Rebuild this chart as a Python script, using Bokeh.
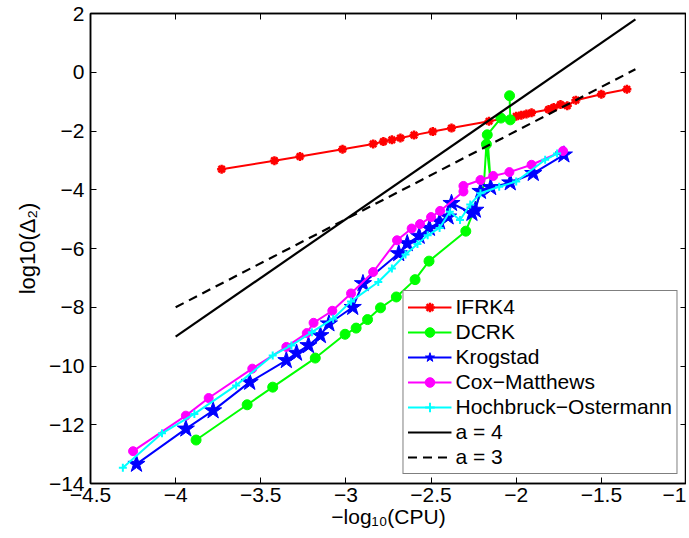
from bokeh.plotting import figure
from bokeh.models import LinearAxis, FixedTicker, Legend, LegendItem, Range1d, CustomLabelingPolicy
from bokeh.embed import file_html
from bokeh.resources import INLINE

# ---------------- data ----------------
ifrk4_x = [-3.73, -3.42, -3.27, -3.02, -2.84, -2.78, -2.73, -2.68, -2.60, -2.49, -2.38, -2.16,
           -2.00, -1.97, -1.94, -1.91, -1.81, -1.78, -1.74, -1.70, -1.65, -1.50, -1.35]
ifrk4_y = [-3.30, -3.01, -2.87, -2.62, -2.44, -2.36, -2.30, -2.24, -2.14, -2.02, -1.90, -1.67,
           -1.50, -1.46, -1.42, -1.38, -1.27, -1.20, -1.10, -1.14, -0.95, -0.75, -0.58]

dcrk_x = [-3.88, -3.58, -3.43, -3.18, -3.005, -2.94, -2.873, -2.797, -2.704, -2.594, -2.512, -2.296,
          -2.19, -2.175, -2.15, -2.17, -2.09, -2.035, -2.039]
dcrk_y = [-12.52, -11.32, -10.72, -9.73, -8.92, -8.71, -8.42, -8.02, -7.65, -7.06, -6.43, -5.41,
          -3.85, -2.45, -3.75, -2.13, -1.56, -1.62, -0.80]

krog_x = [-4.23, -3.94, -3.78, -3.565, -3.35, -3.29, -3.22, -3.15, -3.10, -2.96, -2.90, -2.69,
          -2.64, -2.57, -2.51, -2.45, -2.40, -2.38, -2.26, -2.24, -2.21, -2.15, -2.035, -1.90, -1.72]
krog_y = [-13.34, -12.14, -11.52, -10.55, -9.81, -9.56, -9.30, -8.96, -8.56, -8.00, -7.19, -6.17,
          -5.83, -5.58, -5.31, -5.09, -4.92, -4.46, -4.80, -4.69, -4.05, -3.92, -3.76, -3.44, -2.81]

cox_x = [-4.25, -3.94, -3.806, -3.55, -3.35, -3.23, -3.19, -3.08, -2.97, -2.84, -2.70, -2.614,
         -2.565, -2.50, -2.447, -2.31, -2.31, -2.21, -2.135, -2.04, -1.91, -1.725]
cox_y = [-12.90, -11.69, -11.09, -10.09, -9.35, -8.88, -8.53, -8.12, -7.53, -6.80, -5.72, -5.32,
         -5.17, -4.93, -4.72, -4.06, -3.87, -3.67, -3.53, -3.40, -3.15, -2.68]

ho_x = [-4.31, -4.08, -3.89, -3.645, -3.43, -3.32, -3.20, -3.075, -2.97, -2.81, -2.73, -2.65,
        -2.58, -2.52, -2.45, -2.39, -2.33, -2.27, -2.21, -2.10, -2.00, -1.83, -1.76]
ho_y = [-13.46, -12.29, -11.63, -10.66, -9.64, -9.30, -8.85, -8.39, -7.80, -7.14, -6.68, -6.20,
        -5.85, -5.55, -5.30, -4.75, -5.03, -4.50, -4.12, -3.90, -3.72, -2.98, -2.77]

a4_x = [-4.0, -1.3]
a4_y = [-9.0, 1.8]
a3_x = [-4.0, -1.3]
a3_y = [-8.0, 0.1]

x_ticks = [-4.5, -4.0, -3.5, -3.0, -2.5, -2.0, -1.5, -1.0]
x_tick_labels = ["\u22124.5", "\u22124", "\u22123.5", "\u22123", "\u22122.5", "\u22122", "\u22121.5", "\u22121"]
y_ticks = [-14, -12, -10, -8, -6, -4, -2, 0, 2]
y_tick_labels = ["\u221214", "\u221212", "\u221210", "\u22128", "\u22126", "\u22124", "\u22122", "0", "2"]

FONT = "Liberation Sans"
FS = "21px"

p = figure(width=686, height=530, output_backend="svg", toolbar_location=None,
           x_range=Range1d(-4.5, -1), y_range=Range1d(-14, 2),
           min_border_left=90, min_border_right=0, min_border_top=13, min_border_bottom=46)
p.background_fill_color = "white"
p.border_fill_color = "white"
p.outline_line_color = "black"
p.outline_line_width = 1.5
p.xgrid.visible = False
p.ygrid.visible = False

def style_axis(ax, ticks, labels, show_labels=True):
    ax.ticker = FixedTicker(ticks=ticks)
    ax.major_tick_in = 6
    ax.major_tick_out = 0
    ax.minor_tick_in = 0
    ax.minor_tick_out = 0
    ax.axis_line_color = "black"
    ax.axis_line_width = 1.5
    ax.major_tick_line_width = 1
    ax.major_label_text_font = FONT
    ax.major_label_text_color = "black"
    ax.axis_label_text_font = FONT
    ax.axis_label_text_font_style = "normal"
    ax.axis_label_text_color = "black"
    if show_labels:
        ax.major_label_overrides = {t: l for t, l in zip(ticks, labels)}
        ax.major_label_text_font_size = FS
        ax.axis_label_text_font_size = FS
    else:
        ax.major_label_text_font_size = "0px"
        ax.major_label_standoff = 0
        ax.major_label_policy = CustomLabelingPolicy(
            code="const all = [...indices]; for (const i of all) indices.unset(i); return indices;")

style_axis(p.xaxis[0], x_ticks, x_tick_labels)
style_axis(p.yaxis[0], y_ticks, y_tick_labels)
p.xaxis[0].axis_label = "\u2212log\u2081\u2080(CPU)"
p.yaxis[0].axis_label = "log10(\u0394\u2082)"
p.yaxis[0].axis_label_text_font_size = "22px"
p.xaxis[0].major_label_standoff = 4
p.xaxis[0].axis_label_standoff = 0
p.yaxis[0].major_label_standoff = 6
p.yaxis[0].axis_label_standoff = 6

top = LinearAxis()
right = LinearAxis()
style_axis(top, x_ticks, x_tick_labels, show_labels=False)
style_axis(right, y_ticks, y_tick_labels, show_labels=False)
p.add_layout(top, "above")
p.add_layout(right, "right")

items = []
l = p.line(ifrk4_x, ifrk4_y, line_color="#ff0000", line_width=2)
s = p.scatter(ifrk4_x, ifrk4_y, marker="asterisk", size=9, line_color="#ff0000", line_width=2.5)
items.append(LegendItem(label="IFRK4", renderers=[l, s]))

l = p.line(dcrk_x, dcrk_y, line_color="#00ff00", line_width=2)
s = p.scatter(dcrk_x[:12] + dcrk_x[13:14] + dcrk_x[15:], dcrk_y[:12] + dcrk_y[13:14] + dcrk_y[15:],
              marker="circle", size=10, fill_color="#00ff00", line_color="#00ff00")
items.append(LegendItem(label="DCRK", renderers=[l, s]))

l = p.line(krog_x, krog_y, line_color="#0000ff", line_width=2)
s = p.scatter(krog_x, krog_y, marker="star", size=18, fill_color="#0000ff", line_color="#0000ff")
items.append(LegendItem(label="Krogstad", renderers=[l, s]))

l = p.line(cox_x, cox_y, line_color="#ff00ff", line_width=2)
s = p.scatter(cox_x, cox_y, marker="circle", size=9, fill_color="#ff00ff", line_color="#ff00ff")
items.append(LegendItem(label="Cox\u2212Matthews", renderers=[l, s]))

l = p.line(ho_x, ho_y, line_color="#00ffff", line_width=2)
s = p.scatter(ho_x, ho_y, marker="cross", size=8, line_color="#00ffff", line_width=2)
items.append(LegendItem(label="Hochbruck\u2212Ostermann", renderers=[l, s]))

l = p.line(a4_x, a4_y, line_color="black", line_width=2.2)
items.append(LegendItem(label="a = 4", renderers=[l]))
l = p.line(a3_x, a3_y, line_color="black", line_width=2.2, line_dash="9 6")
items.append(LegendItem(label="a = 3", renderers=[l]))

legend = Legend(items=items, location="bottom_right")
legend.margin = 9
legend.padding = 4
legend.spacing = 1
legend.glyph_width = 44
legend.glyph_height = 24
legend.label_height = 24
legend.label_standoff = 4
legend.label_text_font = FONT
legend.label_text_font_size = FS
legend.label_text_color = "black"
legend.border_line_color = "black"
legend.border_line_width = 1.2
legend.background_fill_color = "white"
legend.background_fill_alpha = 1.0
p.add_layout(legend)

open("out.html", "w").write(file_html(p, INLINE))
